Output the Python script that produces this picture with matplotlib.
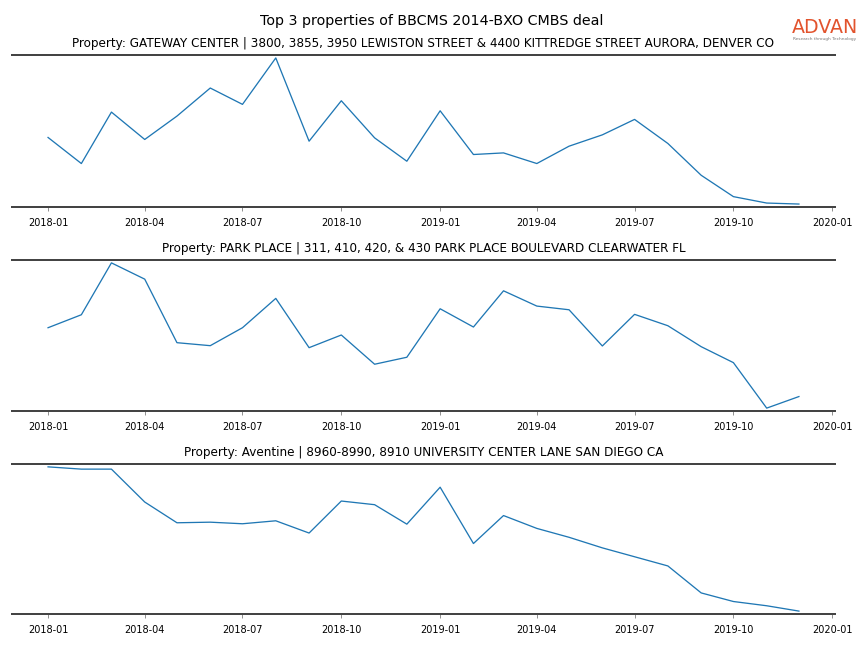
import numpy as np
import pandas as pd
import matplotlib
matplotlib.use("Agg")
import matplotlib.pyplot as plt
import matplotlib.dates as mdates

# monthly values, Jan 2018 - Dec 2019 (y axis hidden in the original, so relative units)
months = pd.date_range("2018-01-01", "2019-12-01", freq="MS")

gateway = [68.7, 42.7, 94.0, 66.7, 90.0, 118.0, 101.7, 148.0, 65.0, 105.3, 68.3, 45.0,
           95.3, 51.7, 53.3, 42.7, 60.0, 71.3, 86.7, 62.7, 31.0, 9.7, 3.3, 2.3]
park_place = [83.3, 96.3, 148.3, 132.0, 68.3, 65.3, 83.3, 112.7, 63.3, 76.0, 46.7, 53.7,
              102.3, 84.0, 120.3, 105.0, 101.3, 65.0, 96.7, 85.3, 64.3, 48.3, 2.7, 14.3]
aventine = [147.3, 145.0, 145.0, 111.7, 90.7, 91.3, 89.7, 92.7, 80.3, 112.7, 109.0, 89.3,
            126.7, 69.7, 98.0, 85.0, 76.0, 65.3, 56.3, 47.0, 19.7, 11.0, 6.7, 1.3]

titles = [
    "Property: GATEWAY CENTER | 3800, 3855, 3950 LEWISTON STREET & 4400 KITTREDGE STREET AURORA, DENVER CO",
    "Property: PARK PLACE | 311, 410, 420, & 430 PARK PLACE BOULEVARD CLEARWATER FL",
    "Property: Aventine | 8960-8990, 8910 UNIVERSITY CENTER LANE SAN DIEGO CA",
]
series = [gateway, park_place, aventine]

fig = plt.figure(figsize=(12, 9), dpi=72)
fig.suptitle("Top 3 properties of BBCMS 2014-BXO CMBS deal", fontsize=14.3, y=0.979)

# axes boxes [left, bottom, width, height]
boxes = [[0.0139, 0.6806, 0.9525, 0.2345],
         [0.0139, 0.3657, 0.9525, 0.2331],
         [0.0139, 0.0525, 0.9525, 0.2315]]

for box, vals, title in zip(boxes, series, titles):
    ax = fig.add_axes(box)
    ax.plot(months, vals, color="#1f77b4", linewidth=1.3)
    ax.margins(x=0.048, y=0.02)
    ax.set_title(title, fontsize=12, pad=8)
    for side in ["left", "right"]:
        ax.spines[side].set_visible(False)
    for side in ["top", "bottom"]:
        ax.spines[side].set_color("#444444")
        ax.spines[side].set_linewidth(2)
    ax.set_yticks([])
    ax.xaxis.set_major_locator(mdates.MonthLocator(bymonth=[1, 4, 7, 10]))
    ax.xaxis.set_major_formatter(mdates.DateFormatter("%Y-%m"))
    ax.tick_params(axis="x", labelsize=9.8, length=4, color="#777777", pad=7)

# logo in the top right corner
fig.text(0.9545, 0.958, "ADVAN", color="#e2532d", fontsize=19, ha="center",
         va="center", fontweight="normal")
fig.text(0.9545, 0.9405, "Research through Technology", color="#777777", fontsize=4.3,
         ha="center", va="center")

fig.savefig("out.png", dpi=72)
